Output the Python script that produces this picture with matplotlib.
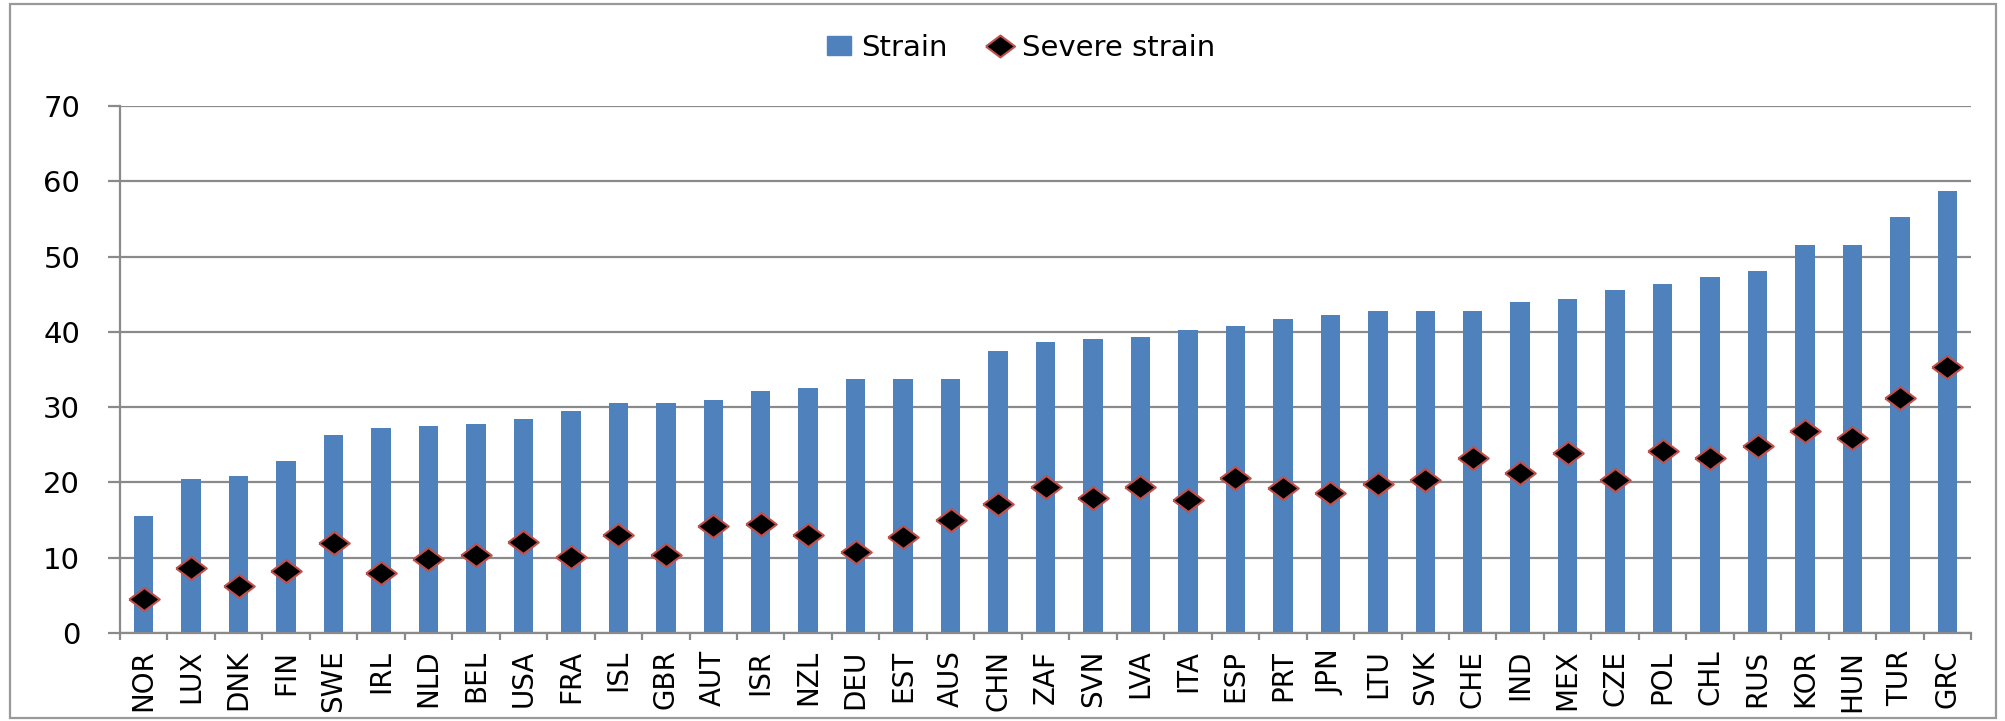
import matplotlib
matplotlib.use("Agg")
import matplotlib.pyplot as plt
from matplotlib.patches import Rectangle
from matplotlib.lines import Line2D
import numpy as np

countries = ["NOR", "LUX", "DNK", "FIN", "SWE", "IRL", "NLD", "BEL", "USA", "FRA",
             "ISL", "GBR", "AUT", "ISR", "NZL", "DEU", "EST", "AUS", "CHN", "ZAF",
             "SVN", "LVA", "ITA", "ESP", "PRT", "JPN", "LTU", "SVK", "CHE", "IND",
             "MEX", "CZE", "POL", "CHL", "RUS", "KOR", "HUN", "TUR", "GRC"]
strain = [15.5, 20.5, 20.8, 22.8, 26.3, 27.2, 27.5, 27.8, 28.4, 29.5,
          30.5, 30.5, 31.0, 32.2, 32.5, 33.7, 33.7, 33.7, 37.5, 38.7,
          39.0, 39.3, 40.2, 40.8, 41.7, 42.2, 42.8, 42.8, 42.8, 44.0,
          44.3, 45.5, 46.3, 47.3, 48.1, 51.6, 51.6, 55.2, 58.7]
severe = [4.5, 8.6, 6.3, 8.3, 11.9, 8.0, 9.8, 10.4, 12.1, 10.1,
          13.0, 10.4, 14.2, 14.5, 13.0, 10.7, 12.7, 15.0, 17.1, 19.4,
          18.0, 19.4, 17.7, 20.6, 19.2, 18.6, 19.8, 20.3, 23.3, 21.2,
          23.9, 20.3, 24.2, 23.3, 24.8, 26.8, 25.9, 31.2, 35.3]

bar_color = "#4f81bd"
grid_color = "#8a8a8a"
# flat diamond like the Excel marker
diamond = [(-1, 0), (0, 0.75), (1, 0), (0, -0.75), (-1, 0)]

fig = plt.figure(figsize=(20.06, 7.21), dpi=100)
ax = fig.add_axes([0.0598, 0.122, 0.9228, 0.731])

x = np.arange(len(countries))
ax.bar(x, strain, width=0.41, color=bar_color, zorder=2)
ax.plot(x, severe, linestyle="none", marker=diamond, markersize=22,
        markerfacecolor="black", markeredgecolor="#c0504d", markeredgewidth=1.5, zorder=3)

ax.set_xlim(-0.5, len(countries) - 0.5)
ax.set_ylim(0, 70)
ax.set_yticks(range(0, 71, 10))
ax.yaxis.grid(True, color=grid_color, linewidth=1.6, zorder=0)
ax.set_axisbelow(True)

ax.set_xticks(np.arange(-0.5, len(countries), 1.0))
ax.set_xticklabels([])
ax.set_xticks(x, minor=True)
ax.set_xticklabels(countries, minor=True, rotation=90,
                   family=["Liberation Sans Narrow", "DejaVu Sans"], fontsize=20)
ax.tick_params(axis="x", which="major", length=5, width=1.6, color=grid_color)
ax.tick_params(axis="x", which="minor", length=0, pad=12)
ax.tick_params(axis="y", length=8.6, width=1.6, color=grid_color, labelsize=21, pad=20)

for s in ["top", "right"]:
    ax.spines[s].set_visible(False)
for s in ["left", "bottom"]:
    ax.spines[s].set_color(grid_color)
    ax.spines[s].set_linewidth(1.6)

handles = [Rectangle((0, 0), 1, 1, color=bar_color),
           Line2D([], [], linestyle="none", marker=diamond, markersize=21,
                  markerfacecolor="black", markeredgecolor="#c0504d", markeredgewidth=1.5)]
fig.legend(handles, ["Strain", "Severe strain"], loc="center", bbox_to_anchor=(0.509, 0.934),
           ncol=2, frameon=False, fontsize=21, handlelength=0.8, handleheight=0.62,
           columnspacing=1.4, handletextpad=0.35)

fig.patches.append(Rectangle((0.005, 0.004), 0.99, 0.991, transform=fig.transFigure,
                             fill=False, edgecolor="#999999", linewidth=1.6))

fig.savefig("out.png", dpi=100)
